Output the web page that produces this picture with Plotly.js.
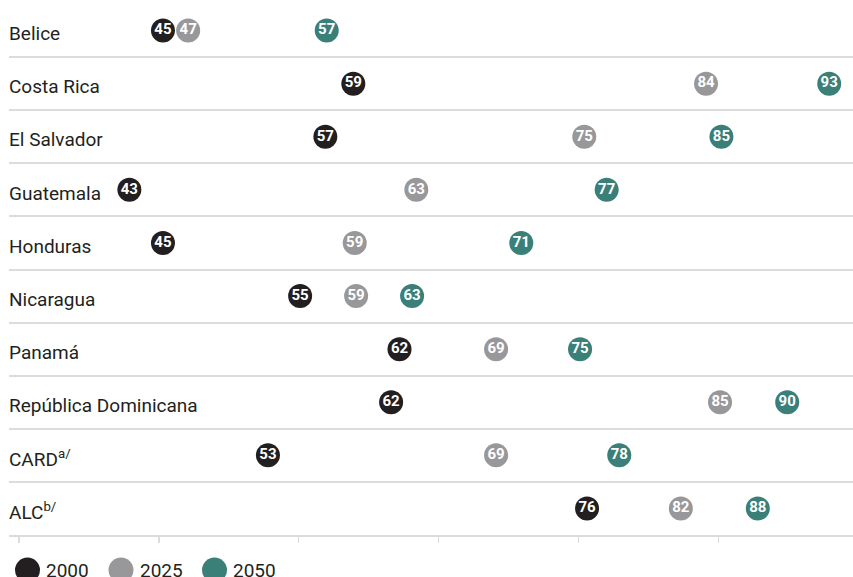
<!DOCTYPE html>
<html>
<head>
<meta charset="utf-8">
<script src="https://cdn.plot.ly/plotly-3.0.1.min.js"></script>
<style>
  html, body { margin: 0; padding: 0; background: #ffffff; }
  #chart { width: 853px; height: 577px; }
</style>
</head>
<body>
<div id="chart"></div>
<script>
// Categories (top to bottom)
const countries = [
  "Belice", "Costa Rica", "El Salvador", "Guatemala", "Honduras",
  "Nicaragua", "Panamá", "República Dominicana", "CARD<sup>a/</sup>", "ALC<sup>b/</sup>"
];
// Series values
const v2000 = [45.3, 58.9, 56.9, 42.9, 45.3, 55.1, 62.2, 61.6, 52.8, 75.6];
const v2025 = [47.1, 84.1, 75.4, 63.4, 59.0, 59.1, 69.1, 85.1, 69.1, 82.3];
const v2050 = [57.0, 92.9, 85.2, 77.0, 70.9, 63.1, 75.1, 89.9, 77.9, 87.8];
const years = ["2000", "2025", "2050"];
const colors = ["#231f20", "#98989b", "#3a7f78"];
const series = [v2000, v2025, v2050];
const xTicks = [35, 45, 55, 65, 75, 85];

const rowPos = countries.map((c, i) => i + 0.5);

const traces = series.map((vals, k) => ({
  type: "scatter",
  mode: "markers+text",
  name: years[k],
  x: vals,
  y: rowPos,
  text: vals.map(v => String(Math.round(v))),
  textposition: "middle center",
  textfont: { family: "Roboto, 'Noto Sans', sans-serif", size: 15, color: "#ffffff", weight: 700 },
  marker: { size: 24, color: colors[k], line: { width: 0 } },
  cliponaxis: false,
  hoverinfo: "x+name",
  showlegend: false
}));

const rowAnnotations = countries.map((c, i) => ({
  xref: "paper", yref: "y",
  x: 0, y: rowPos[i] + 0.06,
  xanchor: "left", yanchor: "middle",
  xshift: -2,
  text: c,
  showarrow: false,
  font: { family: "Roboto, 'Noto Sans', sans-serif", size: 19, color: "#231f20" }
}));

// Legend drawn below the plot
const plotLeft = 9, plotWidth = 844, plotTop = 4, plotHeight = 531;
const legendY = (535 - 570) / plotHeight;
const legendShapes = years.map((y, i) => ({
  type: "circle",
  xref: "paper", yref: "paper",
  xsizemode: "pixel", ysizemode: "pixel",
  xanchor: (27.5 + i * 93.5 - plotLeft) / plotWidth,
  yanchor: legendY,
  x0: -12.5, x1: 12.5, y0: -12.5, y1: 12.5,
  fillcolor: colors[i],
  line: { width: 0 }
}));
const legendAnnotations = years.map((y, i) => ({
  xref: "paper", yref: "paper",
  x: (44 + i * 93.5 - plotLeft) / plotWidth,
  y: legendY,
  xanchor: "left", yanchor: "middle",
  text: y,
  showarrow: false,
  font: { family: "Roboto, 'Noto Sans', sans-serif", size: 19, color: "#231f20" }
}));

const layout = {
  width: 853, height: 577,
  margin: { l: plotLeft, r: 0, t: plotTop, b: 42, pad: 0 },
  paper_bgcolor: "#ffffff",
  plot_bgcolor: "#ffffff",
  showlegend: false,
  xaxis: {
    range: [34.3, 94.6],
    tickvals: xTicks,
    showticklabels: false,
    ticks: "outside",
    ticklen: 6,
    tickwidth: 1.5,
    tickcolor: "#dcdcdc",
    showgrid: false,
    zeroline: false,
    showline: true,
    linecolor: "#dcdcdc",
    linewidth: 2,
    fixedrange: true
  },
  yaxis: {
    range: [10, 0],
    tickvals: [0, 1, 2, 3, 4, 5, 6, 7, 8, 9, 10],
    showticklabels: false,
    ticks: "",
    showgrid: true,
    gridcolor: "#dcdcdc",
    gridwidth: 2,
    zeroline: false,
    showline: false,
    fixedrange: true
  },
  shapes: legendShapes,
  annotations: rowAnnotations.concat(legendAnnotations)
};

Plotly.newPlot("chart", traces, layout, { displayModeBar: false, staticPlot: true });
</script>
</body>
</html>
